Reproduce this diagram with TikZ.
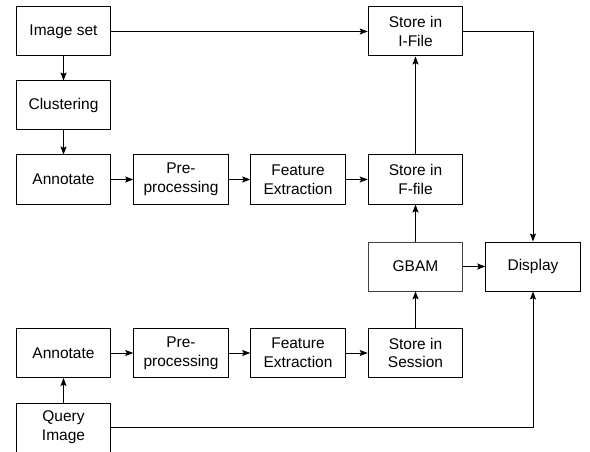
\documentclass[tikz,border=0pt]{standalone}
\usepackage{fontspec}
\setmainfont{Liberation Sans}
\usetikzlibrary{arrows.meta}
\begin{document}
\begin{tikzpicture}[x=1pt,y=-1pt,
  box/.style={draw, line width=1pt, minimum width=94.5pt, minimum height=49pt,
    align=center, inner sep=0pt, font=\fontsize{15.5pt}{18.7pt}\selectfont},
  lightbox/.style={box, draw=black!75, line width=0.6pt},
  arr/.style={line width=1pt, -{Stealth[length=8pt,width=6pt,inset=1.5pt]}}]
\useasboundingbox (0,0) rectangle (590,452);
\node[box] (img) at (63.5,31.5) {Image set};
\node[box] (clu) at (63.5,105.5) {Clustering};
\node[box] (ann1) at (63.5,179.5) {Annotate};
\node[box] (pre1) at (181,179.5) {Pre-\\processing};
\node[box] (fe1) at (298,179.5) {Feature\\Extraction};
\node[box] (ffile) at (415.5,179.5) {Store in\\F-file};
\node[box] (ifile) at (415.5,31.5) {Store in\\I-File};
\node[lightbox] (gbam) at (415.5,266.5) {GBAM};
\node[box] (disp) at (533,266.5) {Display};
\node[box] (ann2) at (63.5,353) {Annotate};
\node[box] (pre2) at (181,353) {Pre-\\processing};
\node[box] (fe2) at (298,353) {Feature\\Extraction};
\node[box] (sess) at (415.5,353) {Store in\\Session};
\node[box] (query) at (63.5,427.5) {Query\\Image};
\draw[arr] (img) -- (clu);
\draw[arr] (clu) -- (ann1);
\draw[arr] (ann1) -- (pre1);
\draw[arr] (pre1) -- (fe1);
\draw[arr] (fe1) -- (ffile);
\draw[arr] (ffile) -- (ifile);
\draw[arr] (img) -- (ifile);
\draw[arr] (ifile.east) -| (disp.north);
\draw[arr] (gbam) -- (ffile);
\draw[arr] (gbam) -- (disp);
\draw[arr] (sess) -- (gbam);
\draw[arr] (ann2) -- (pre2);
\draw[arr] (pre2) -- (fe2);
\draw[arr] (fe2) -- (sess);
\draw[arr] (query) -- (ann2);
\draw[arr] (query.east) -| (disp.south);
\end{tikzpicture}
\end{document}
